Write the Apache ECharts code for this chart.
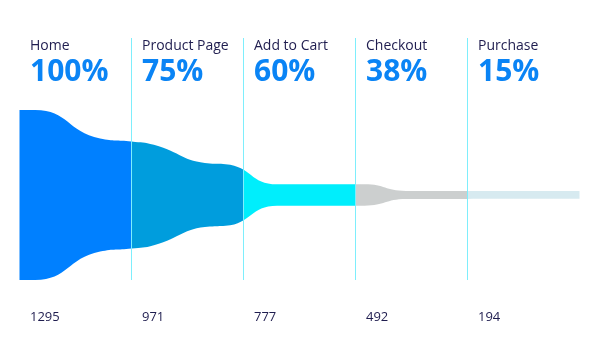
<!DOCTYPE html>
<html><head><meta charset="utf-8">
<style>html,body{margin:0;padding:0;background:#fff}#c{width:600px;height:360px}</style>
<script src="https://cdn.jsdelivr.net/npm/echarts@6/dist/echarts.min.js"></script>
</head><body><div id="c"></div>
<script>
const stages = ['Home', 'Product Page', 'Add to Cart', 'Checkout', 'Purchase'];
const percents = [100, 75, 60, 38, 15];
const counts = [1295, 971, 777, 492, 194];
const stageColors = ['#0080ff', '#009ddd', '#00eefc', '#cccfcf', '#d7eaf0'];
// band outline: position along the stages (0..5), thickness in % of the first stage
const profileX = [0, 0.14, 0.72, 1.0, 1.2, 1.7, 1.84, 2.3, 3.08, 3.45, 4.0, 5.0];
const profileWidth = [100, 100, 66.6, 63, 59, 37, 36.3, 12.6, 12.6, 4.8, 4.6, 4.5];

const yMin = -50;
const yMax = 92.35;
const dividerColor = '#7eeefc';

const stops = [];
stageColors.forEach((c, i) => {
  stops.push({ offset: i / stageColors.length, color: c });
  stops.push({ offset: (i + 1) / stageColors.length, color: c });
});
const bandFill = { type: 'linear', x: 0, y: 0, x2: 1, y2: 0, colorStops: stops };
const clear = 'rgba(0,0,0,0)';

const dividerSeries = stages.slice(1).map((s, i) => ({
  type: 'line', silent: true, symbol: 'none', z: 5,
  lineStyle: { color: dividerColor, width: 1, type: 'solid', opacity: 1 },
  emphasis: { disabled: true },
  data: [[i + 1, yMin], [i + 1, yMax]]
}));

const chart = echarts.init(document.getElementById('c'), null, { renderer: 'canvas' });
chart.setOption({
  animation: false,
  grid: { left: 19.5, right: 20.5, top: 38, bottom: 80 },
  xAxis: { type: 'value', min: 0, max: stages.length, show: false },
  yAxis: { type: 'value', min: yMin, max: yMax, show: false },
  series: [
    {
      type: 'line', smooth: true, symbol: 'none', silent: true,
      lineStyle: { width: 0, color: clear },
      areaStyle: { opacity: 1, origin: 'auto', color: bandFill },
      data: profileX.map((x, i) => [x, profileWidth[i] / 2])
    },
    {
      type: 'line', smooth: true, symbol: 'none', silent: true,
      lineStyle: { width: 0, color: clear },
      areaStyle: { opacity: 1, origin: 'auto', color: bandFill },
      data: profileX.map((x, i) => [x, -profileWidth[i] / 2])
    },
    ...dividerSeries,
    {
      type: 'scatter', silent: true, symbolSize: 1, itemStyle: { color: clear, opacity: 1 },
      data: stages.map((s, i) => [i, yMax]),
      label: {
        show: true, position: [11, -2], align: 'left', verticalAlign: 'top',
        formatter: p => '{n|' + stages[p.dataIndex] + '}\n{p|' + percents[p.dataIndex] + '%}',
        rich: {
          n: { fontFamily: 'Open Sans', fontSize: 14, color: '#1f1d4f', lineHeight: 22 },
          p: { fontFamily: 'Open Sans', fontSize: 30, fontWeight: 'bold', color: '#0a84f5', lineHeight: 30 }
        }
      }
    },
    {
      type: 'scatter', silent: true, symbolSize: 1, itemStyle: { color: clear, opacity: 1 },
      data: stages.map((s, i) => [i, yMin]),
      label: {
        show: true, position: [11, 30], align: 'left', verticalAlign: 'top',
        fontFamily: 'Open Sans', fontSize: 13, color: '#1f1d4f', lineHeight: 16,
        formatter: p => String(counts[p.dataIndex])
      }
    }
  ]
});
</script></body></html>
